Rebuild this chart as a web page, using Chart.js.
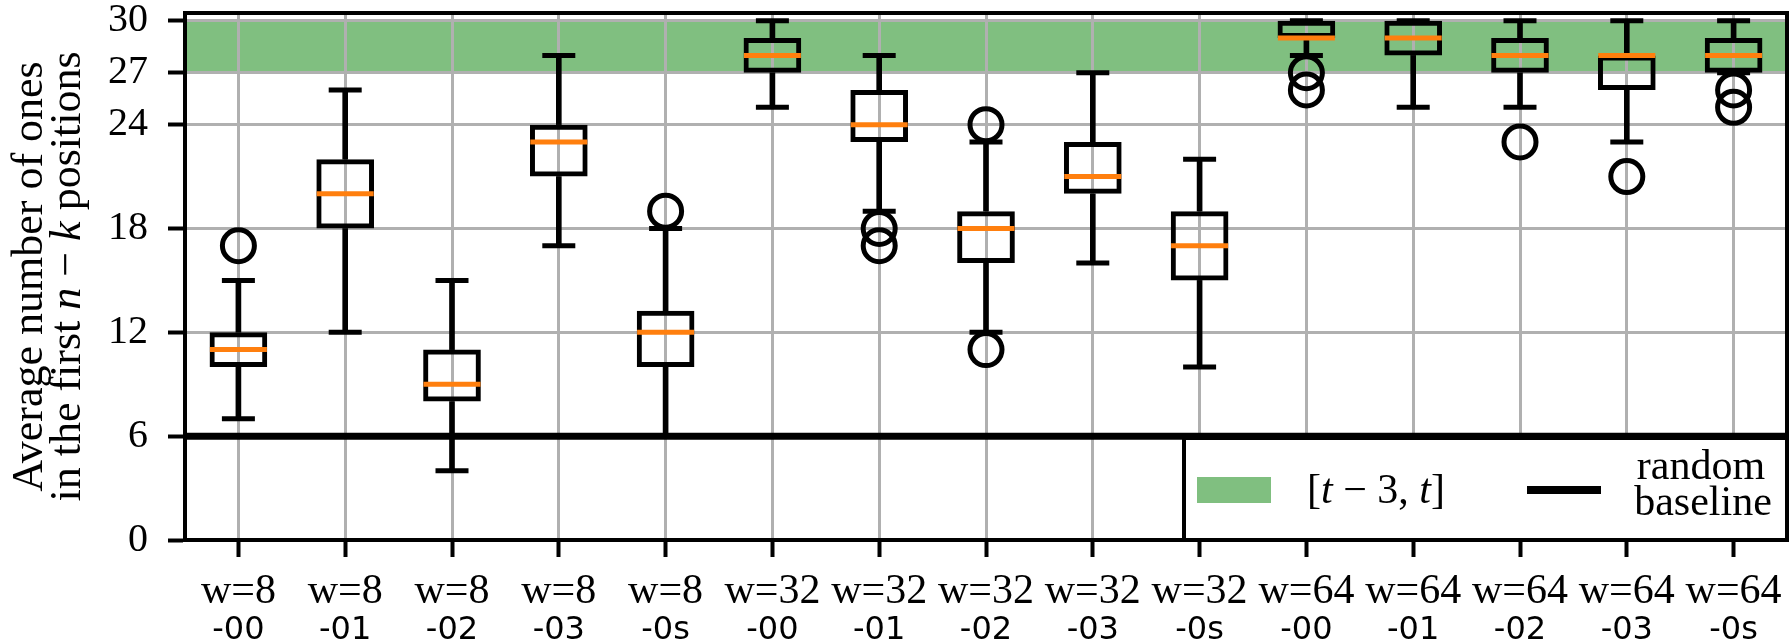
<!DOCTYPE html>
<html>
<head>
<meta charset="utf-8">
<script src="https://cdn.jsdelivr.net/npm/chart.js@4"></script>
<style>
  html, body { margin: 0; padding: 0; background: #fff; }
  #wrap { width: 1789px; height: 643px; }
</style>
</head>
<body>
<div id="wrap"><canvas id="myChart" width="1789" height="643"></canvas></div>
<script>
/* global Chart */

// categories (two-line tick labels)
var groups = ['w=8', 'w=8', 'w=8', 'w=8', 'w=8',
              'w=32', 'w=32', 'w=32', 'w=32', 'w=32',
              'w=64', 'w=64', 'w=64', 'w=64', 'w=64'];
var runs = ['-00', '-01', '-02', '-03', '-0s',
            '-00', '-01', '-02', '-03', '-0s',
            '-00', '-01', '-02', '-03', '-0s'];

// box plot statistics
var whiskerLow  = [7, 12, 4, 17, 6, 25, 19, 12, 16, 10, 28, 25, 25, 23, 27];
var q1          = [10, 18, 8, 21, 10, 27, 23, 16, 20, 15, 29, 28, 27, 26, 27];
var median      = [11, 20, 9, 23, 12, 28, 24, 18, 21, 17, 29, 29, 28, 28, 28];
var q3          = [12, 22, 11, 24, 13.25, 29, 26, 19, 23, 19, 30, 30, 29, 28, 29];
var whiskerHigh = [15, 26, 15, 28, 18, 30, 28, 23, 27, 22, 30, 30, 30, 30, 30];
var fliers = [[17], [], [], [], [19], [], [18, 17], [24, 11], [], [], [27, 26], [], [23], [21], [26, 25]];

var yTicks = [0, 6, 12, 18, 24, 27, 30];
var bandLow = 27, bandHigh = 30;   // [t - 3, t]
var baseline = 6;                  // random baseline

var SERIF = "'Liberation Serif', serif";
var SANS = "'DejaVu Sans', sans-serif";
var ORANGE = '#ff7f0e';
var GREEN = '#80bf80';
var GRID = '#b0b0b0';

var positions = groups.map(function(g, i) { return i + 1; });
var xMin = 0.5, xMax = groups.length + 0.5;

function pts(values) {
    return values.map(function(v, i) { return {x: i + 1, y: v}; });
}
function ranges(lo, hi) {
    return lo.map(function(v, i) { return {x: i + 1, y: [v, hi[i]]}; });
}
var flierPts = [];
fliers.forEach(function(list, i) {
    list.forEach(function(v) { flierPts.push({x: i + 1, y: v}); });
});

function noPad(scale) {
    scale.paddingLeft = 0;
    scale.paddingRight = 0;
    scale.paddingTop = 0;
    scale.paddingBottom = 0;
}

// text with italic pieces, centred on cx
function drawRich(ctx, parts, cx, cy, size) {
    var total = 0;
    var widths = parts.map(function(p) {
        ctx.font = (p[1] ? 'italic ' : '') + size + 'px ' + SERIF;
        var w = ctx.measureText(p[0]).width;
        total += w;
        return w;
    });
    var x = cx - total / 2;
    parts.forEach(function(p, i) {
        ctx.font = (p[1] ? 'italic ' : '') + size + 'px ' + SERIF;
        ctx.fillText(p[0], x, cy);
        x += widths[i];
    });
}

var framePlugin = {
    id: 'frame',
    afterDatasetsDraw: function(chart) {
        var ctx = chart.ctx, a = chart.chartArea;
        ctx.save();
        ctx.strokeStyle = '#000';
        ctx.lineWidth = 4;
        ctx.beginPath();
        ctx.moveTo(a.left, a.top);
        ctx.lineTo(a.right, a.top);
        ctx.lineTo(a.right, a.bottom);
        ctx.stroke();
        ctx.restore();
    },
    afterDraw: function(chart) {
        var ctx = chart.ctx, a = chart.chartArea;
        ctx.save();
        ctx.fillStyle = '#000';
        ctx.textAlign = 'left';
        ctx.textBaseline = 'alphabetic';

        // y axis title, two lines, rotated
        var cy = (a.top + a.bottom) / 2;
        ctx.save();
        ctx.translate(42, cy);
        ctx.rotate(-Math.PI / 2);
        drawRich(ctx, [['Average number of ones', false]], 0, 0, 44);
        ctx.restore();
        ctx.save();
        ctx.translate(80, cy);
        ctx.rotate(-Math.PI / 2);
        drawRich(ctx, [['in the first ', false], ['n', true], [' \u2212 ', false], ['k', true], [' positions', false]], 0, 0, 44);
        ctx.restore();

        // legend box, lower right
        var w = 603, h = 102;
        var left = a.right - w, top = a.bottom - h;
        ctx.fillStyle = '#fff';
        ctx.fillRect(left, top, w, h);
        ctx.strokeStyle = '#000';
        ctx.lineWidth = 4;
        ctx.strokeRect(left, top, w, h);

        ctx.fillStyle = GREEN;
        ctx.fillRect(left + 13, top + 39, 74, 26);
        ctx.fillStyle = '#000';
        drawRich(ctx, [['[', false], ['t', true], [' \u2212 3, ', false], ['t', true], [']', false]], left + 192, top + 65, 42);

        ctx.lineWidth = 8;
        ctx.beginPath();
        ctx.moveTo(left + 343, top + 52);
        ctx.lineTo(left + 417, top + 52);
        ctx.stroke();

        ctx.font = '42px ' + SERIF;
        ctx.textAlign = 'center';
        ctx.fillText('random', left + 517, top + 41);
        ctx.fillText('baseline', left + 519, top + 77);
        ctx.restore();
    }
};

var ctx = document.getElementById('myChart').getContext('2d');
var myChart = new Chart(ctx, {
    type: 'bar',
    data: {
        datasets: [{
            type: 'line',
            label: 'band',
            data: [{x: xMin, y: bandHigh}, {x: xMax, y: bandHigh}],
            fill: {value: bandLow},
            backgroundColor: GREEN,
            borderWidth: 0,
            pointRadius: 0,
            order: 10
        }, {
            label: 'whiskers low',
            data: ranges(whiskerLow, q1),
            backgroundColor: '#000',
            barThickness: 5,
            grouped: false,
            order: 7
        }, {
            label: 'whiskers high',
            data: ranges(q3, whiskerHigh),
            backgroundColor: '#000',
            barThickness: 5,
            grouped: false,
            order: 7
        }, {
            type: 'scatter',
            label: 'caps',
            data: pts(whiskerLow).concat(pts(whiskerHigh)),
            pointStyle: 'line',
            pointRadius: 16.5,
            borderColor: '#000',
            borderWidth: 5,
            order: 6
        }, {
            label: 'boxes',
            data: ranges(q1, q3),
            backgroundColor: 'rgba(0,0,0,0)',
            borderColor: '#000',
            borderWidth: 5,
            borderSkipped: false,
            barPercentage: 0.54,
            categoryPercentage: 1,
            grouped: false,
            order: 5
        }, {
            type: 'scatter',
            label: 'median',
            data: pts(median),
            pointStyle: 'line',
            pointRadius: 28.5,
            borderColor: ORANGE,
            borderWidth: 5,
            order: 4
        }, {
            type: 'scatter',
            label: 'fliers',
            data: flierPts,
            pointStyle: 'circle',
            pointRadius: 16,
            backgroundColor: 'rgba(0,0,0,0)',
            borderColor: '#000',
            borderWidth: 5,
            order: 3
        }, {
            type: 'line',
            label: 'random baseline',
            data: [{x: xMin, y: baseline}, {x: xMax, y: baseline}],
            borderColor: '#000',
            borderWidth: 7,
            pointRadius: 0,
            fill: false,
            order: 1
        }]
    },
    options: {
        responsive: false,
        animation: false,
        events: [],
        layout: {autoPadding: false, padding: {top: 13, right: 2, left: 0, bottom: 0}},
        plugins: {
            legend: {display: false},
            tooltip: {enabled: false},
            filler: {drawTime: 'beforeDraw'}
        },
        scales: {
            x: {
                type: 'linear',
                position: 'bottom',
                weight: 0,
                offset: false,
                min: xMin,
                max: xMax,
                afterBuildTicks: function(scale) {
                    scale.ticks = positions.map(function(p) { return {value: p}; });
                },
                afterFit: function(scale) { scale.height = 70; noPad(scale); },
                grid: {offset: false, color: GRID, lineWidth: 3, tickColor: '#000', tickLength: 17, tickWidth: 4},
                border: {color: '#000', width: 4},
                ticks: {
                    autoSkip: false, maxRotation: 0, padding: 10, color: '#000',
                    font: {family: SERIF, size: 42},
                    callback: function(v) { return groups[v - 1]; }
                }
            },
            x2: {
                type: 'linear',
                position: 'bottom',
                weight: 1,
                offset: false,
                min: xMin,
                max: xMax,
                afterBuildTicks: function(scale) {
                    scale.ticks = positions.map(function(p) { return {value: p}; });
                },
                afterFit: function(scale) { scale.height = 33; noPad(scale); },
                grid: {display: false, drawTicks: false, offset: false},
                border: {display: false},
                ticks: {
                    autoSkip: false, maxRotation: 0, padding: 1, color: '#000',
                    font: {family: SANS, size: 32},
                    callback: function(v) { return runs[v - 1]; }
                }
            },
            y: {
                min: 0,
                max: 30.45,
                afterBuildTicks: function(scale) {
                    scale.ticks = yTicks.map(function(v) { return {value: v}; });
                },
                afterFit: function(scale) { scale.width = 185; noPad(scale); },
                grid: {color: GRID, lineWidth: 3, tickColor: '#000', tickLength: 17, tickWidth: 4},
                border: {color: '#000', width: 4},
                ticks: {padding: 20, color: '#000', font: {family: SERIF, size: 40}}
            }
        }
    },
    plugins: [framePlugin]
});
</script>
</body>
</html>
